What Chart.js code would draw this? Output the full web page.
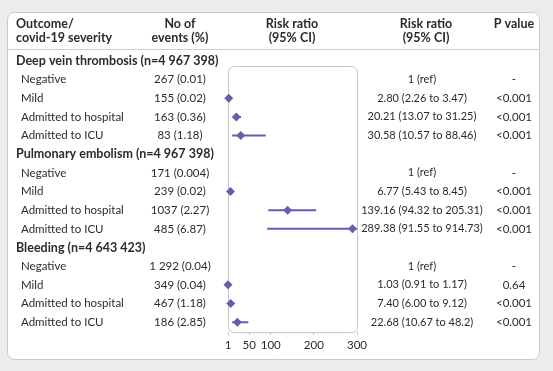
<!DOCTYPE html>
<html>
<head>
<meta charset="utf-8">
<script src="https://cdn.jsdelivr.net/npm/chart.js@4.4.1/dist/chart.umd.min.js"></script>
<style>
  html, body { margin: 0; padding: 0; background: #ececec; }
  #wrap { width: 553px; height: 371px; position: relative; }
</style>
</head>
<body>
<div id="wrap"><canvas id="Chart"></canvas></div>
<script>
// data
const outcomes = ['Deep vein thrombosis', 'Pulmonary embolism', 'Bleeding'];
const outcomeN = ['4 967 398', '4 967 398', '4 643 423'];
const severities = ['Negative', 'Mild', 'Admitted to hospital', 'Admitted to ICU'];
const events = [
    ['267 (0.01)', '155 (0.02)', '163 (0.36)', '83 (1.18)'],
    ['171 (0.004)', '239 (0.02)', '1037 (2.27)', '485 (6.87)'],
    ['1 292 (0.04)', '349 (0.04)', '467 (1.18)', '186 (2.85)']
];
const riskRatio = [
    [1, 2.80, 20.21, 30.58],
    [1, 6.77, 139.16, 289.38],
    [1, 1.03, 7.40, 22.68]
];
const ciLow = [
    [null, 2.26, 13.07, 10.57],
    [null, 5.43, 94.32, 91.55],
    [null, 0.91, 6.00, 10.67]
];
const ciHigh = [
    [null, 3.47, 31.25, 88.46],
    [null, 8.45, 205.31, 914.73],
    [null, 1.17, 9.12, 48.2]
];
const rrLabels = [
    ['1 (ref)', '2.80 (2.26 to 3.47)', '20.21 (13.07 to 31.25)', '30.58 (10.57 to 88.46)'],
    ['1 (ref)', '6.77 (5.43 to 8.45)', '139.16 (94.32 to 205.31)', '289.38 (91.55 to 914.73)'],
    ['1 (ref)', '1.03 (0.91 to 1.17)', '7.40 (6.00 to 9.12)', '22.68 (10.67 to 48.2)']
];
const pValues = [
    ['-', '<0.001', '<0.001', '<0.001'],
    ['-', '<0.001', '<0.001', '<0.001'],
    ['-', '0.64', '<0.001', '<0.001']
];
const xTicks = [1, 50, 100, 200, 300];

const purple = '#6a5bb0';
const textColor = '#2b2b2b';
const fontFamily = 'Lato, "Open Sans", sans-serif';

function rowOf(o, s) { return o * 5 + 1 + s; }

var datasets = [];
var points = [];
for (var o = 0; o < outcomes.length; o++) {
    for (var s = 0; s < severities.length; s++) {
        if (ciLow[o][s] === null) continue;
        datasets.push({
            type: 'line',
            data: [{x: ciLow[o][s], y: rowOf(o, s)}, {x: ciHigh[o][s], y: rowOf(o, s)}],
            borderColor: purple,
            borderWidth: 2,
            pointRadius: 0,
            order: 2
        });
        points.push({x: riskRatio[o][s], y: rowOf(o, s)});
    }
}
datasets.push({
    type: 'scatter',
    data: points,
    pointStyle: 'rectRot',
    pointRadius: 4.5,
    backgroundColor: purple,
    borderColor: purple,
    borderWidth: 0,
    clip: false,
    order: 1
});

function roundRect(ctx, x, y, w, h, r) {
    ctx.beginPath();
    ctx.moveTo(x + r, y);
    ctx.arcTo(x + w, y, x + w, y + h, r);
    ctx.arcTo(x + w, y + h, x, y + h, r);
    ctx.arcTo(x, y + h, x, y, r);
    ctx.arcTo(x, y, x + w, y, r);
    ctx.closePath();
}

const tablePlugin = {
    id: 'forestTable',
    beforeDraw(chart) {
        const ctx = chart.ctx;
        const a = chart.chartArea;
        ctx.save();
        ctx.fillStyle = '#ececec';
        ctx.fillRect(0, 0, chart.width, chart.height);
        roundRect(ctx, 7.5, 12.5, 532, 347, 7);
        ctx.fillStyle = '#ffffff';
        ctx.fill();
        ctx.strokeStyle = '#c9c9c9';
        ctx.lineWidth = 1;
        ctx.stroke();
        ctx.beginPath();
        ctx.moveTo(8, 49.5);
        ctx.lineTo(540, 49.5);
        ctx.strokeStyle = '#cfcfcf';
        ctx.stroke();
        roundRect(ctx, a.left + 0.5, a.top + 0.5, a.right - a.left, a.bottom - a.top, 6);
        ctx.strokeStyle = '#c4c4c4';
        ctx.stroke();
        ctx.restore();
    },
    afterDraw(chart) {
        const ctx = chart.ctx;
        const y = chart.scales.y;
        ctx.save();
        ctx.fillStyle = textColor;
        ctx.textBaseline = 'middle';

        // column headers
        ctx.font = 'bold 12.5px ' + fontFamily;
        ctx.textAlign = 'left';
        ctx.fillText('Outcome/', 16, 24);
        ctx.fillText('covid-19 severity', 16, 38);
        ctx.textAlign = 'center';
        ctx.fillText('No of', 180, 24);
        ctx.fillText('events (%)', 180, 38);
        ctx.fillText('Risk ratio', 292, 24);
        ctx.fillText('(95% CI)', 292, 38);
        ctx.fillText('Risk ratio', 426, 24);
        ctx.fillText('(95% CI)', 426, 38);
        ctx.fillText('P value', 514, 24);

        for (var o = 0; o < outcomes.length; o++) {
            ctx.font = 'bold 12.5px ' + fontFamily;
            ctx.textAlign = 'left';
            ctx.fillText(outcomes[o] + ' (n=' + outcomeN[o] + ')', 16, y.getPixelForValue(o * 5));
            for (var s = 0; s < severities.length; s++) {
                var py = y.getPixelForValue(rowOf(o, s));
                ctx.font = '11.5px ' + fontFamily;
                ctx.textAlign = 'left';
                ctx.fillText(severities[s], 21, py);
                ctx.textAlign = 'center';
                ctx.fillText(events[o][s], 180, py);
                ctx.fillText(pValues[o][s], 514, py);
                ctx.font = '11px ' + fontFamily;
                ctx.fillText(rrLabels[o][s], 422, py);
            }
        }
        ctx.restore();
    }
};

new Chart('Chart', {
    data: { datasets: datasets },
    options: {
        responsive: true,
        maintainAspectRatio: false,
        animation: false,
        layout: { padding: { left: 228, right: 196, top: 66, bottom: 16 } },
        plugins: { legend: { display: false }, tooltip: { enabled: false } },
        scales: {
            x: {
                type: 'linear',
                min: 1,
                max: 300,
                afterBuildTicks: function(axis) {
                    axis.ticks = xTicks.map(function(v) { return {value: v}; });
                },
                grid: { display: true, drawOnChartArea: false, tickLength: 3, color: '#c4c4c4' },
                border: { display: false },
                ticks: {
                    autoSkip: false,
                    maxRotation: 0,
                    padding: 3,
                    color: textColor,
                    font: { family: fontFamily, size: 11.5 },
                    callback: function(v) { return v; }
                }
            },
            y: {
                type: 'linear',
                display: false,
                reverse: true,
                min: 0.27,
                max: 14.54
            }
        }
    },
    plugins: [tablePlugin]
});
</script>
</body>
</html>
